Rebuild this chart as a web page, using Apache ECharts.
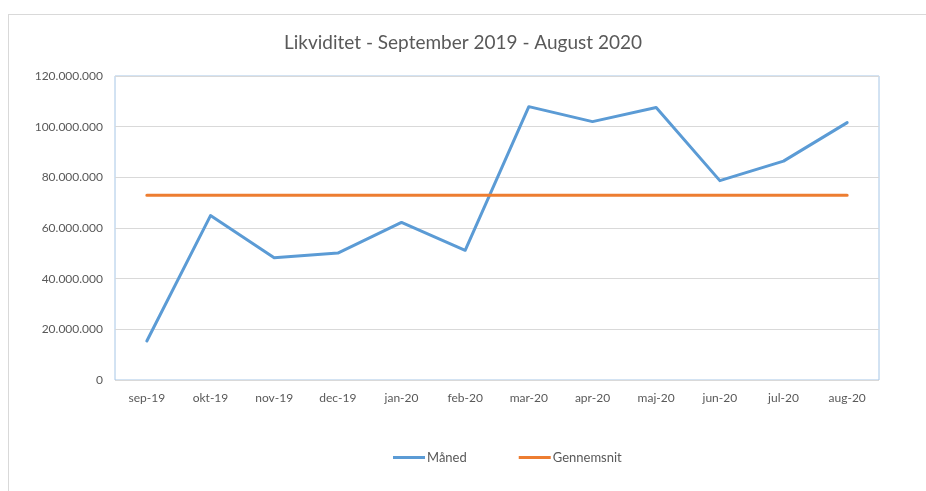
<!DOCTYPE html>
<html>
<head>
<meta charset="utf-8">
<script src="https://cdn.jsdelivr.net/npm/echarts@6/dist/echarts.min.js"></script>
<style>
  html, body { margin: 0; padding: 0; background: #fff; overflow: hidden; }
  .frame {
    position: absolute; left: 8px; top: 14px; width: 960px; height: 520px;
    border: 1px solid #d9d9d9; box-sizing: border-box;
  }
  #chart { position: absolute; left: 0; top: 0; width: 926px; height: 491px; }
</style>
</head>
<body>
<div class="frame"></div>
<div id="chart"></div>
<script>
// kategorier og værdier
const months = ['sep-19', 'okt-19', 'nov-19', 'dec-19', 'jan-20', 'feb-20',
  'mar-20', 'apr-20', 'maj-20', 'jun-20', 'jul-20', 'aug-20'];
const maaned = [15400000, 64900000, 48300000, 50100000, 62200000, 51200000,
  107900000, 102000000, 107600000, 78700000, 86400000, 101600000];
const gennemsnit = [72900000, 72900000, 72900000, 72900000, 72900000, 72900000,
  72900000, 72900000, 72900000, 72900000, 72900000, 72900000];
const yMax = 120000000;
const yStep = 20000000;

const font = 'Lato, "Open Sans", sans-serif';
const fmt = v => v === 0 ? '0' : String(v).replace(/\B(?=(\d{3})+(?!\d))/g, '.');

let chart = echarts.init(document.getElementById('chart'), null, { renderer: 'canvas' });
chart.setOption({
  animation: false,
  color: ['#5b9bd5', '#ed7d31'],
  title: {
    text: 'Likviditet - September 2019 - August 2020',
    left: 'center',
    top: 28,
    textStyle: { fontFamily: font, fontSize: 19, fontWeight: 'normal', color: '#595959' }
  },
  legend: {
    bottom: 22,
    left: 388,
    itemGap: 52,
    itemWidth: 32,
    itemHeight: 3,
    icon: 'rect',
    textStyle: { fontFamily: font, fontSize: 13, color: '#595959', padding: [0, 0, 0, -3] },
    data: ['Måned', 'Gennemsnit']
  },
  grid: {
    left: 115,
    right: 47,
    top: 76,
    bottom: 111,
    show: true,
    borderColor: '#a6c6e6',
    borderWidth: 1
  },
  xAxis: {
    type: 'category',
    data: months,
    boundaryGap: true,
    axisLine: { show: false },
    axisTick: { show: false },
    axisLabel: { fontFamily: font, fontSize: 12, color: '#595959', margin: 12 }
  },
  yAxis: {
    type: 'value',
    min: 0,
    max: yMax,
    interval: yStep,
    axisLine: { show: false },
    axisTick: { show: false },
    splitLine: { lineStyle: { color: '#d9d9d9', width: 1 } },
    axisLabel: { fontFamily: font, fontSize: 12, color: '#595959', margin: 12, formatter: fmt }
  },
  series: [
    {
      name: 'Måned',
      type: 'line',
      data: maaned,
      symbol: 'none',
      lineStyle: { width: 3, color: '#5b9bd5', cap: 'round', join: 'round' }
    },
    {
      name: 'Gennemsnit',
      type: 'line',
      data: gennemsnit,
      symbol: 'none',
      lineStyle: { width: 3, color: '#ed7d31', cap: 'round' }
    }
  ]
});
</script>
</body>
</html>
